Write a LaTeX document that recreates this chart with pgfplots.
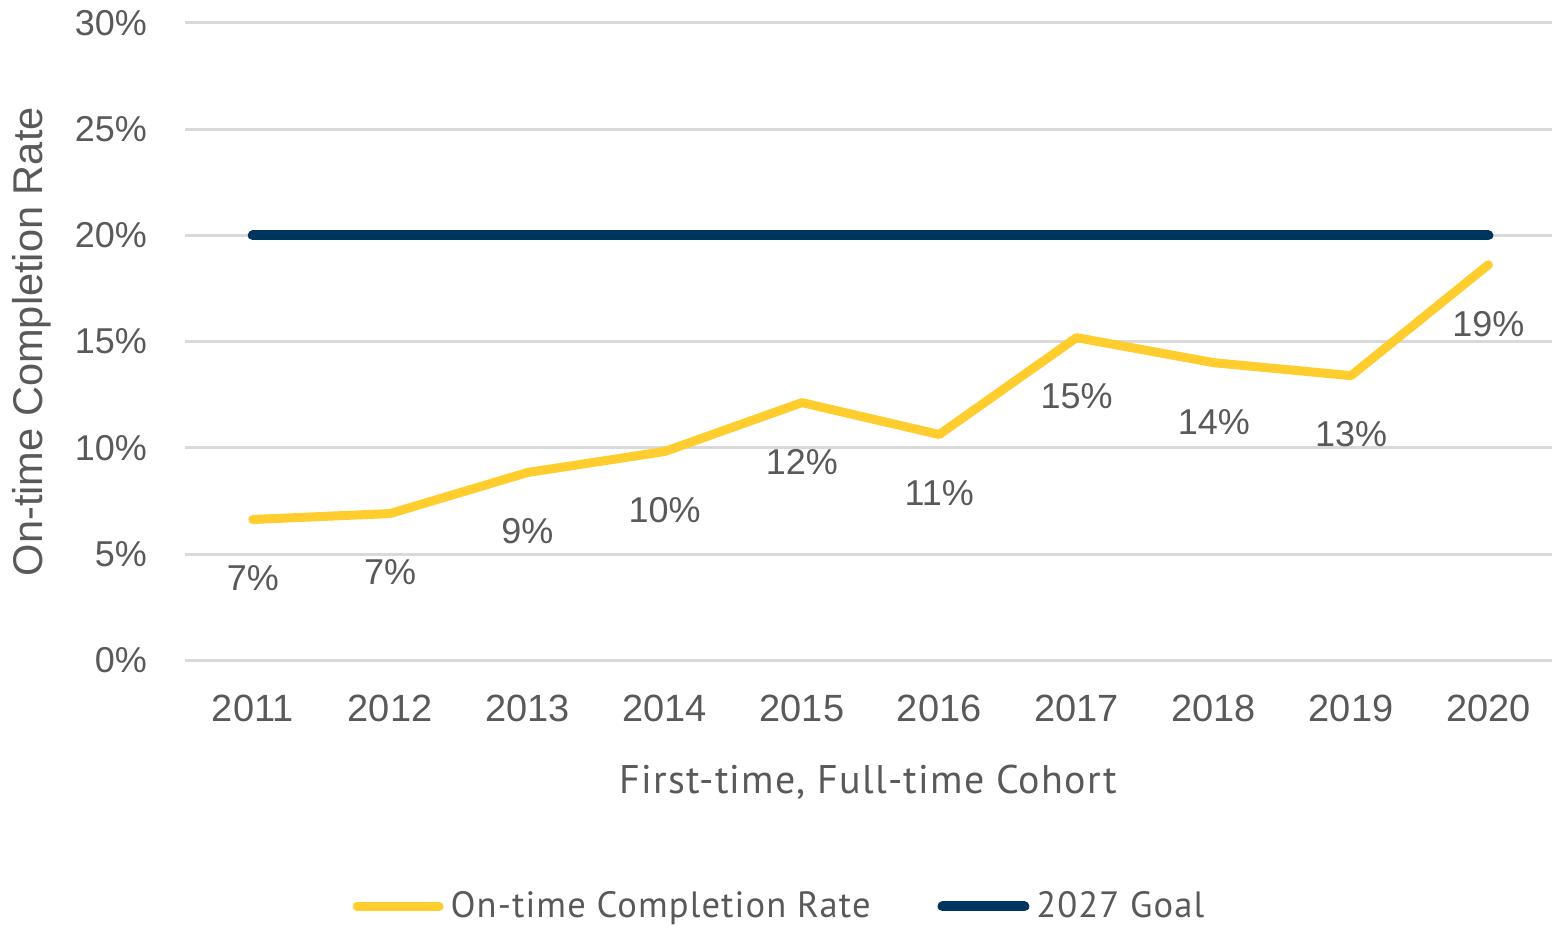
\documentclass[border=0pt]{standalone}
\usepackage{pgfplots}
\pgfplotsset{compat=1.18}
\usepackage{fontspec}
\setmainfont{Liberation Sans}
\newfontfamily\aptos{PT Sans}[LetterSpace=3]
\definecolor{maize}{HTML}{FFCD2D}
\definecolor{navy}{HTML}{00355F}
\definecolor{txt}{HTML}{595959}
\definecolor{gridc}{HTML}{D9D9D9}
\begin{document}
\begin{tikzpicture}
\begin{axis}[
  name=ax,
  scale only axis,
  width=684pt, height=319pt,
  xmin=2010.505, xmax=2020.46,
  ymin=0, ymax=30,
  xtick={2011,2012,2013,2014,2015,2016,2017,2018,2019,2020},
  xticklabels={2011,2012,2013,2014,2015,2016,2017,2018,2019,2020},
  ytick={0,5,10,15,20,25,30},
  yticklabel={\pgfmathprintnumber{\tick}\%},
  /pgf/number format/assume math mode=true,
  axis line style={draw=none},
  major tick length=0pt,
  ymajorgrids,
  grid style={gridc, line width=1.5pt},
  tick label style={text=txt},
  xticklabel style={yshift=-14pt, font=\fontsize{19}{21}\selectfont},
  yticklabel style={xshift=-15.5pt, font=\fontsize{18}{20}\selectfont},
  xlabel={First-time, Full-time Cohort},
  xlabel style={at={(axis description cs:0.5,-0.191)}, anchor=center, font=\aptos\fontsize{20}{22}\selectfont, text=txt},
  ylabel={On-time Completion Rate},
  ylabel style={at={(axis description cs:-0.1118,0.5)}, anchor=center, font=\fontsize{20.8}{22}\selectfont, text=txt},
  clip=false,
  legend columns=2,
  legend style={at={(axis description cs:0.437,-0.386)}, anchor=center, draw=none, fill=none,
    font=\aptos\fontsize{18.3}{20}\selectfont, text=txt,
    /tikz/every even column/.append style={column sep=30pt},
    nodes={inner sep=3.5pt}},
  legend image code/.code={\draw[#1, line cap=round] (2pt,0pt) -- (43pt,0pt);},
]
\addplot[maize, line width=4.5pt, line cap=round, line join=round,
  nodes near coords={\pgfmathprintnumber[fixed,precision=0]{\pgfplotspointmeta}\%},
  point meta=y,
  every node near coord/.style={anchor=center, yshift=-29.5pt, font=\fontsize{18}{20}\selectfont, text=txt}]
coordinates {(2011,6.63) (2012,6.91) (2013,8.84) (2014,9.83) (2015,12.13) (2016,10.63) (2017,15.19) (2018,14.01) (2019,13.4) (2020,18.62)};
\addlegendentry{On-time Completion Rate}
\addplot[navy, line width=5pt, line cap=round]
coordinates {(2011,20) (2012,20) (2013,20) (2014,20) (2015,20) (2016,20) (2017,20) (2018,20) (2019,20) (2020,20)};
\addlegendentry{2027 Goal}
\end{axis}
\path (ax.south west) ++(-92.5pt,-133pt) rectangle ([yshift=11.5pt]ax.north east);
\end{tikzpicture}
\end{document}
